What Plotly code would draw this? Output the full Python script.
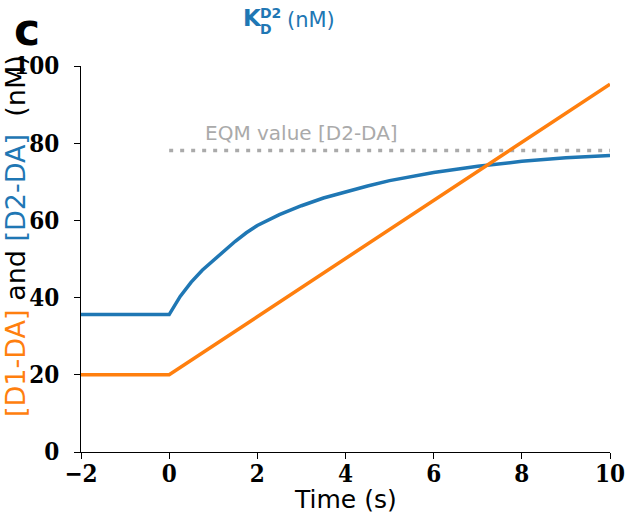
import plotly.graph_objects as go

# ---- data ----
t_d2 = [-2, 0, 0.25, 0.5, 0.75, 1, 1.25, 1.5, 1.75, 2, 2.5, 3, 3.5, 4, 4.5, 5, 6, 7, 8, 9, 10]
d2_da = [35.6, 35.6, 40.3, 44.0, 47.1, 49.7, 52.3, 54.6, 56.8, 58.7, 61.5, 63.8, 65.8,
         67.4, 68.9, 70.3, 72.4, 74.0, 75.3, 76.2, 76.8]
t_d1 = [-2, 0, 10]
d1_da = [20.0, 20.0, 95.3]
eqm_t = [0, 10]
eqm_val = [78.1, 78.1]
x_ticks = [-2, 0, 2, 4, 6, 8, 10]
y_ticks = [0, 20, 40, 60, 80, 100]

BLUE = "#1f77b4"
ORANGE = "#ff7f0e"
GRAY = "#aaaaaa"

W, H = 627, 523
PL, PR, PT, PB = 81, 610, 66, 452   # plot area in page pixels
PW, PH = PR - PL, PB - PT


def px(x):
    return (x - PL) / PW


def py(y):
    return (PB - y) / PH


fig = go.Figure()
fig.add_trace(go.Scatter(x=eqm_t, y=eqm_val, mode="lines",
                         line=dict(color=GRAY, width=3.5, dash="4px,7px"),
                         hoverinfo="skip"))
fig.add_trace(go.Scatter(x=t_d2, y=d2_da, mode="lines",
                         line=dict(color=BLUE, width=3.5)))
fig.add_trace(go.Scatter(x=t_d1, y=d1_da, mode="lines",
                         line=dict(color=ORANGE, width=3.5)))

tickfont = dict(family="DejaVu Serif Condensed, DejaVu Serif", size=24,
                color="black", weight="bold")
fig.update_layout(
    width=W, height=H,
    margin=dict(l=PL, r=W - PR, t=PT, b=H - PB, pad=0, autoexpand=False),
    paper_bgcolor="white", plot_bgcolor="white",
    showlegend=False,
    xaxis=dict(range=[-2, 10], tickvals=x_ticks, ticks="outside", ticklen=6,
               tickwidth=1, tickcolor="black", showline=True, linecolor="black",
               linewidth=1, showgrid=False, zeroline=False, tickfont=tickfont,
               automargin=False, ticklabelstandoff=-6),
    yaxis=dict(range=[0, 100], tickvals=y_ticks, ticks="outside", ticklen=6,
               tickwidth=1, tickcolor="black", showline=True, linecolor="black",
               linewidth=1, showgrid=False, zeroline=False, tickfont=tickfont,
               automargin=False, ticklabelstandoff=10),
)

ann = []
# panel letter
ann.append(dict(text="<b>c</b>", x=px(27), y=py(29), xref="paper", yref="paper",
                showarrow=False, xanchor="center", yanchor="middle",
                font=dict(family="DejaVu Sans", size=44, color="black")))
# title K_D^D2 (nM)
ann.append(dict(text="<b>K</b>", x=px(241), y=py(18), xref="paper", yref="paper",
                showarrow=False, xanchor="left", yanchor="middle",
                font=dict(family="DejaVu Sans", size=23, color=BLUE)))
ann.append(dict(text="<b>D2</b>", x=px(258), y=py(13), xref="paper", yref="paper",
                showarrow=False, xanchor="left", yanchor="middle",
                font=dict(family="DejaVu Sans", size=14, color=BLUE)))
ann.append(dict(text="<b>D</b>", x=px(258), y=py(29), xref="paper", yref="paper",
                showarrow=False, xanchor="left", yanchor="middle",
                font=dict(family="DejaVu Sans", size=14, color=BLUE)))
ann.append(dict(text="(nM)", x=px(285), y=py(20), xref="paper", yref="paper",
                showarrow=False, xanchor="left", yanchor="middle",
                font=dict(family="DejaVu Sans", size=21, color=BLUE)))
# y-axis title (multicolour)
ytitle = (f'<span style="color:{ORANGE}">[D1-DA]</span> and '
          f'<span style="color:{BLUE}">[D2-DA]</span>\u00a0\u00a0(nM)')
ann.append(dict(text=ytitle, x=px(15), y=py(236), xref="paper", yref="paper",
                showarrow=False, xanchor="center", yanchor="middle", textangle=-90,
                font=dict(family="DejaVu Sans", size=27, color="black")))
# x-axis title
ann.append(dict(text="Time (s)", x=px(345), y=py(499), xref="paper", yref="paper",
                showarrow=False, xanchor="center", yanchor="middle",
                font=dict(family="DejaVu Sans", size=25, color="black")))
# EQM label
ann.append(dict(text="EQM value [D2-DA]", x=0.77, y=82.6, xref="x", yref="y",
                showarrow=False, xanchor="left", yanchor="middle",
                font=dict(family="DejaVu Sans", size=20, color=GRAY)))
fig.update_layout(annotations=ann)

fig.write_html("out.html",
               config={"displayModeBar": False, "staticPlot": True},
               post_script="document.body.style.margin='0';"
                           "document.body.style.overflow='hidden';")
